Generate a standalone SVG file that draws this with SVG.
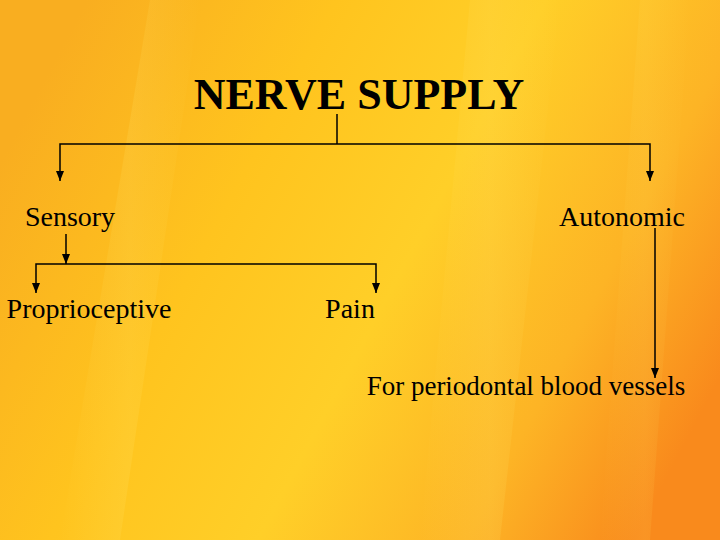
<svg xmlns="http://www.w3.org/2000/svg" width="720" height="540" viewBox="0 0 720 540">
<defs>
<linearGradient id="bg" x1="0" y1="0.3" x2="1" y2="0.7">
<stop offset="0" stop-color="#F9AE20"/>
<stop offset="0.3" stop-color="#FFC41E"/>
<stop offset="0.55" stop-color="#FFCF28"/>
<stop offset="0.8" stop-color="#FDB425"/>
<stop offset="1" stop-color="#F98A1C"/>
</linearGradient>
<linearGradient id="streak" x1="0" y1="0" x2="1" y2="0">
<stop offset="0" stop-color="#FFE060" stop-opacity="0"/>
<stop offset="0.5" stop-color="#FFE060" stop-opacity="0.5"/>
<stop offset="1" stop-color="#FFE060" stop-opacity="0"/>
</linearGradient>
<marker id="ah" viewBox="0 0 10 8" refX="10" refY="4" markerWidth="10" markerHeight="8" markerUnits="userSpaceOnUse" orient="auto-start-reverse">
<path d="M0,0 L10,4 L0,8 Z" fill="#000"/>
</marker>
<style>
.t{font-family:"Liberation Serif","Times New Roman",serif;fill:#000;}
.n{font-size:28px;}
.s{font-size:27px;}
.c{stroke:#000;stroke-width:1.5;fill:none;}
</style>
</defs>
<rect width="720" height="540" fill="url(#bg)"/>
<polygon points="150,0 200,0 120,540 60,540" fill="url(#streak)" opacity="0.4"/>
<polygon points="470,0 560,0 500,540 420,540" fill="url(#streak)" opacity="0.4"/>
<polygon points="640,0 690,0 650,540 600,540" fill="url(#streak)" opacity="0.25"/>
<g id="title"><text class="t" x="359" y="109" font-size="44" font-weight="bold" text-anchor="middle">NERVE SUPPLY</text></g>
<g id="sensory"><text class="t n" x="70" y="226" text-anchor="middle">Sensory</text></g>
<g id="autonomic"><text class="t n" x="622" y="226" text-anchor="middle">Autonomic</text></g>
<g id="proprioceptive"><text class="t n" x="89" y="318" text-anchor="middle">Proprioceptive</text></g>
<g id="pain"><text class="t n" x="350" y="318" text-anchor="middle">Pain</text></g>
<g id="vessels"><text class="t s" x="526" y="395" text-anchor="middle">For periodontal blood vessels</text></g>
<g id="connectors">
<path class="c" d="M337,114 V144"/>
<path class="c" d="M60,181 V144 H650 V181" marker-start="url(#ah)" marker-end="url(#ah)"/>
<path class="c" d="M66,234 V264" marker-end="url(#ah)"/>
<path class="c" d="M36,293 V264 H376 V293" marker-start="url(#ah)" marker-end="url(#ah)"/>
<path class="c" d="M655,228 V378" marker-end="url(#ah)"/>
</g>
</svg>
